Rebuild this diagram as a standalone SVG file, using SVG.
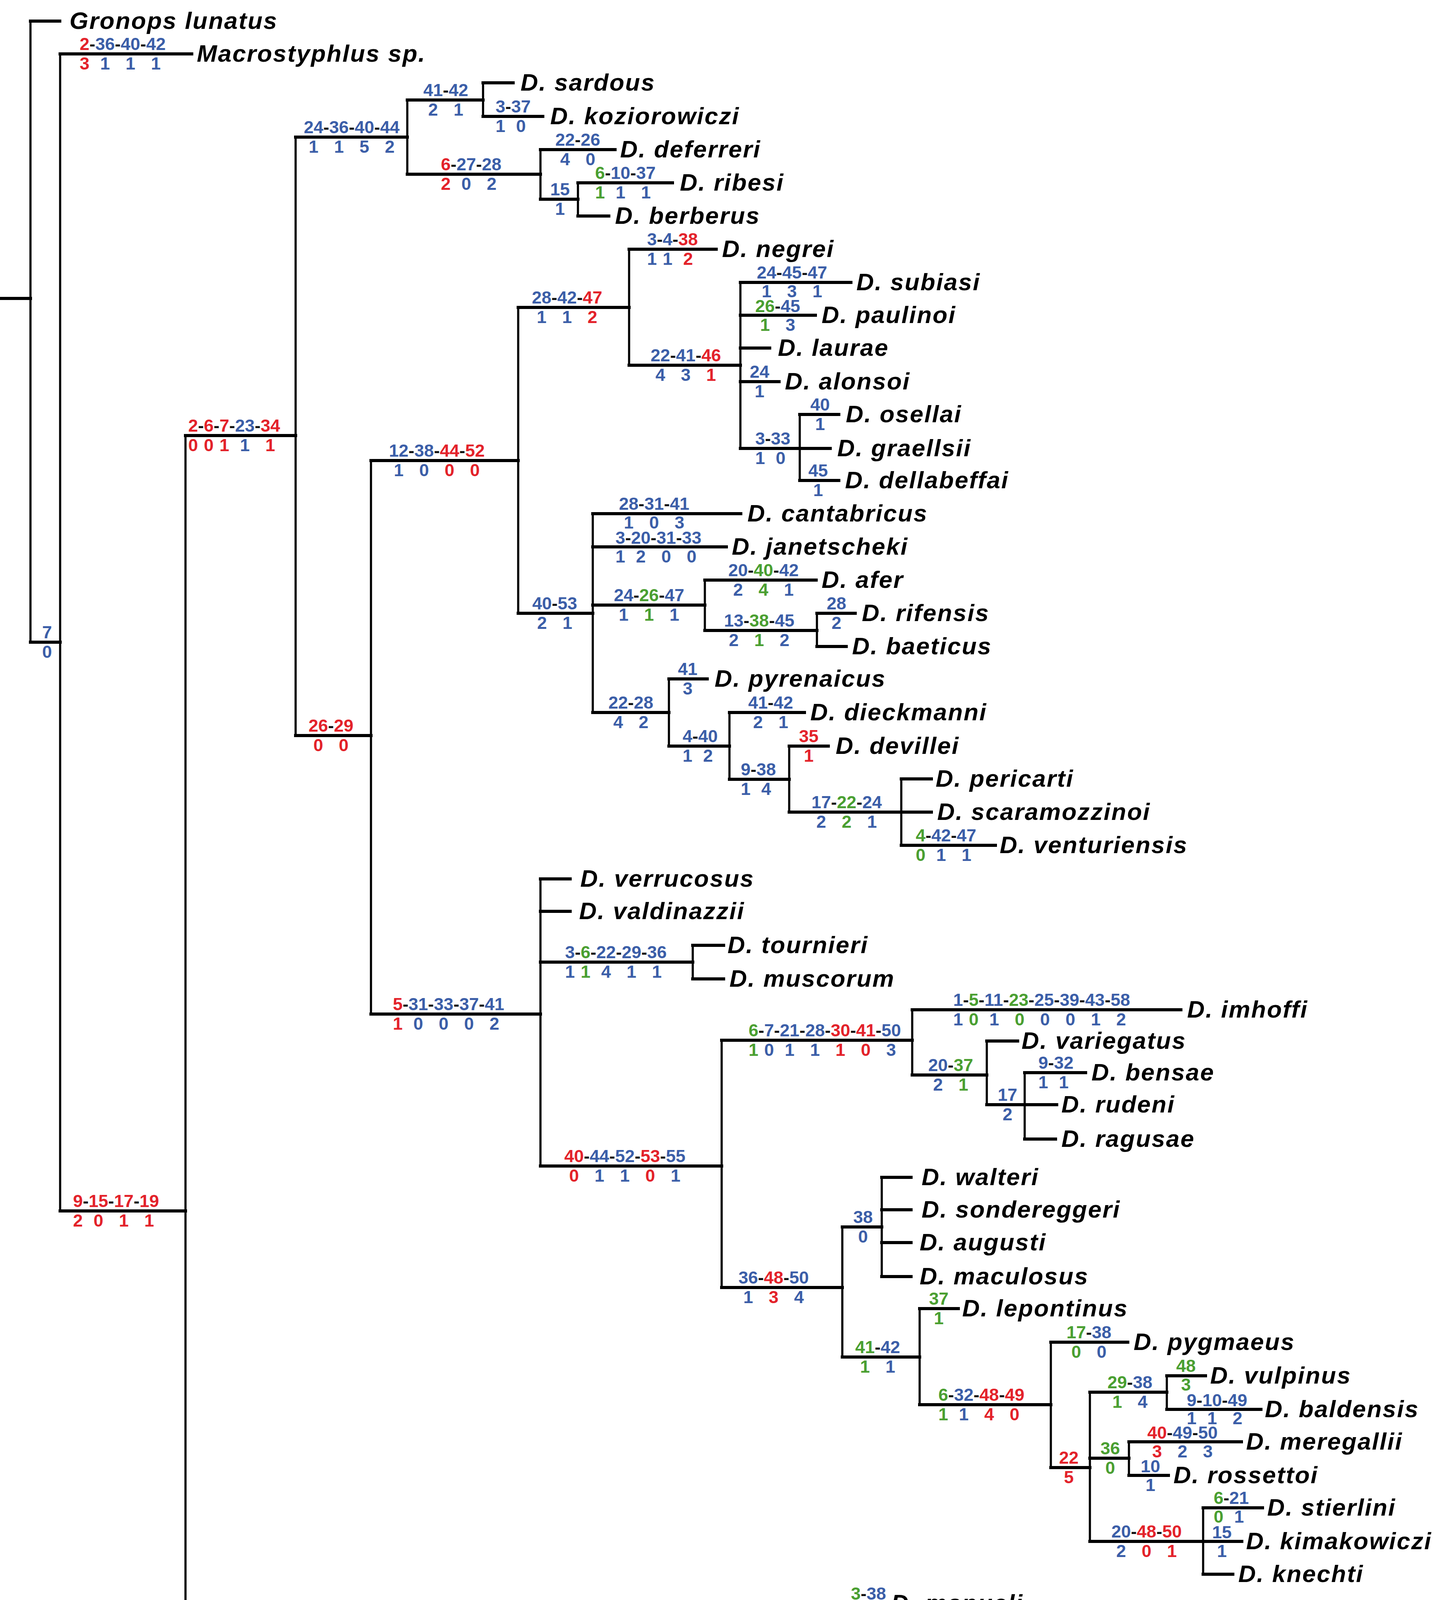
<svg xmlns="http://www.w3.org/2000/svg" width="3685" height="5252" viewBox="0 0 3685 5252">
<style>
.h{fill:none;stroke:#000;stroke-width:8;stroke-linecap:square}
.v{fill:none;stroke:#000;stroke-width:5.5;stroke-linecap:square}
.sp{font-family:"Liberation Sans",Arial,sans-serif;font-weight:bold;font-style:italic;font-size:62px;letter-spacing:2.5px;fill:#000}
.n{font-family:"Liberation Sans",Arial,sans-serif;font-weight:bold;font-size:45px;fill:#111}
.s{font-family:"Liberation Sans",Arial,sans-serif;font-weight:bold;font-size:45px;text-anchor:middle}
.b{fill:#3b5ea8}.r{fill:#e3222a}.g{fill:#4a9f31}
</style>
<rect width="3685" height="5252" fill="#fff"/>
<g id="connectors">
<path class="h" d="M0 764H78M78 54H153M78 1644H154M154 138H491M154 3100H475M475 1115H757M475 5008H836M757 351H1043M757 1883H950M1043 256H1237M1043 446H1384M1237 212H1314M1237 298H1390M1384 383H1575M1384 510H1480M1480 468H1722M1480 553H1559M950 1179H1327M950 2596H1384M1327 787H1611M1327 1570H1518M1611 638H1834M1611 935H1896M1896 723H2179M1896 807H2088M1896 891H1971M1896 977H1995M1896 1148H2126M2048 1061H2148M2048 1230H2148M1518 1315H1897M1518 1400H1860M1518 1549H1805M1518 1824H1713M1805 1485H2090M1805 1614H2092M2092 1570H2190M2092 1655H2167M1713 1738H1811M1713 1910H1868M1868 1824H2060M1868 1995H2021M2021 1910H2121M2021 2079H2385M2308 1994H2385M2308 2164H2549M1384 2250H1460M1384 2333H1460M1384 2463H1774M1384 2985H1848M1774 2420H1853M1774 2506H1853M1848 2663H2336M1848 3296H2157M2336 2585H3024M2336 2752H2527M2527 2665H2606M2527 2828H2706M2624 2746H2780M2624 2916H2703M2157 3141H2258M2157 3474H2355M2258 3014H2333M2258 3097H2333M2258 3181H2333M2258 3268H2333M2355 3350H2454M2355 3596H2691M2691 3436H2888M2691 3757H2791M2791 3564H2988M2791 3733H2891M2791 3946H3180M2988 3522H3087M2988 3608H3229M2891 3691H3179M2891 3777H2992M3081 3860H3233M3081 4030H3157M836 4805H1175M836 5191H934M1175 4470H1881M1175 5125H1255M1881 4190H2166M1881 4759H2166M2166 4105H2262M2166 4275H2358M2358 4190H2735M2358 4360H2735M2735 4275H3032M2735 4443H3005M2929 4358H3116M2929 4529H3025M2166 4657H2449M2166 4859H2540M2449 4614H2525M2449 4700H3301M2540 4783H2785M2540 4932H2828M2828 4869H2979M2828 4997H2927M2927 4953H3000M2927 5038H3075"/>
<path class="v" d="M78 54V1644M154 138V3100M475 1115V5008M757 351V1883M1043 256V446M1237 212V298M1384 383V510M1480 468V553M950 1179V2596M1327 787V1570M1611 638V935M1896 723V1148M2048 1061V1230M1518 1315V1824M1805 1485V1614M2092 1570V1655M1713 1738V1910M1868 1824V1995M2021 1910V2079M2308 1994V2164M1384 2250V2985M1774 2420V2506M1848 2663V3296M2336 2585V2752M2527 2665V2828M2624 2746V2916M2157 3141V3474M2258 3014V3268M2355 3350V3596M2691 3436V3757M2791 3564V3946M2988 3522V3608M2891 3691V3777M3081 3860V4030M836 4805V5191M1175 4470V5125M1881 4190V4759M2166 4105V4275M2358 4190V4360M2735 4275V4443M2929 4358V4529M2166 4657V4859M2449 4614V4700M2540 4783V4932M2828 4869V4997M2927 4953V5038"/>
</g>
<g id="taxa">
<g id="t-gronops"><text class="sp" x="178" y="74">Gronops lunatus</text></g>
<g id="t-macro"><text class="sp" x="504" y="158">Macrostyphlus sp.</text></g>
<g id="t-sardous"><text class="sp" x="1333" y="232">D. sardous</text></g>
<g id="t-kozio"><text class="sp" x="1409" y="318">D. koziorowiczi</text></g>
<g id="t-deferreri"><text class="sp" x="1588" y="403">D. deferreri</text></g>
<g id="t-ribesi"><text class="sp" x="1741" y="488">D. ribesi</text></g>
<g id="t-berberus"><text class="sp" x="1575" y="573">D. berberus</text></g>
<g id="t-negrei"><text class="sp" x="1849" y="658">D. negrei</text></g>
<g id="t-subiasi"><text class="sp" x="2193" y="743">D. subiasi</text></g>
<g id="t-paulinoi"><text class="sp" x="2104" y="827">D. paulinoi</text></g>
<g id="t-laurae"><text class="sp" x="1992" y="911">D. laurae</text></g>
<g id="t-alonsoi"><text class="sp" x="2010" y="997">D. alonsoi</text></g>
<g id="t-osellai"><text class="sp" x="2166" y="1081">D. osellai</text></g>
<g id="t-graellsii"><text class="sp" x="2144" y="1168">D. graellsii</text></g>
<g id="t-dellabeffai"><text class="sp" x="2164" y="1250">D. dellabeffai</text></g>
<g id="t-cantabricus"><text class="sp" x="1914" y="1335">D. cantabricus</text></g>
<g id="t-janetscheki"><text class="sp" x="1874" y="1420">D. janetscheki</text></g>
<g id="t-afer"><text class="sp" x="2104" y="1505">D. afer</text></g>
<g id="t-rifensis"><text class="sp" x="2207" y="1590">D. rifensis</text></g>
<g id="t-baeticus"><text class="sp" x="2182" y="1675">D. baeticus</text></g>
<g id="t-pyrenaicus"><text class="sp" x="1830" y="1758">D. pyrenaicus</text></g>
<g id="t-dieckmanni"><text class="sp" x="2075" y="1844">D. dieckmanni</text></g>
<g id="t-devillei"><text class="sp" x="2140" y="1930">D. devillei</text></g>
<g id="t-pericarti"><text class="sp" x="2396" y="2014">D. pericarti</text></g>
<g id="t-scaramozzinoi"><text class="sp" x="2400" y="2099">D. scaramozzinoi</text></g>
<g id="t-venturiensis"><text class="sp" x="2560" y="2184">D. venturiensis</text></g>
<g id="t-verrucosus"><text class="sp" x="1486" y="2270">D. verrucosus</text></g>
<g id="t-valdinazzii"><text class="sp" x="1483" y="2353">D. valdinazzii</text></g>
<g id="t-tournieri"><text class="sp" x="1863" y="2440">D. tournieri</text></g>
<g id="t-muscorum"><text class="sp" x="1868" y="2526">D. muscorum</text></g>
<g id="t-imhoffi"><text class="sp" x="3040" y="2605">D. imhoffi</text></g>
<g id="t-variegatus"><text class="sp" x="2616" y="2685">D. variegatus</text></g>
<g id="t-bensae"><text class="sp" x="2795" y="2766">D. bensae</text></g>
<g id="t-rudeni"><text class="sp" x="2718" y="2848">D. rudeni</text></g>
<g id="t-ragusae"><text class="sp" x="2718" y="2936">D. ragusae</text></g>
<g id="t-walteri"><text class="sp" x="2360" y="3034">D. walteri</text></g>
<g id="t-sondereggeri"><text class="sp" x="2360" y="3117">D. sondereggeri</text></g>
<g id="t-augusti"><text class="sp" x="2355" y="3201">D. augusti</text></g>
<g id="t-maculosus"><text class="sp" x="2355" y="3288">D. maculosus</text></g>
<g id="t-lepontinus"><text class="sp" x="2464" y="3370">D. lepontinus</text></g>
<g id="t-pygmaeus"><text class="sp" x="2903" y="3456">D. pygmaeus</text></g>
<g id="t-vulpinus"><text class="sp" x="3099" y="3542">D. vulpinus</text></g>
<g id="t-baldensis"><text class="sp" x="3239" y="3628">D. baldensis</text></g>
<g id="t-meregallii"><text class="sp" x="3191" y="3711">D. meregallii</text></g>
<g id="t-rossettoi"><text class="sp" x="3005" y="3797">D. rossettoi</text></g>
<g id="t-stierlini"><text class="sp" x="3245" y="3880">D. stierlini</text></g>
<g id="t-kimakowiczi"><text class="sp" x="3191" y="3966">D. kimakowiczi</text></g>
<g id="t-knechti"><text class="sp" x="3171" y="4050">D. knechti</text></g>
<g id="t-manueli"><text class="sp" x="2282" y="4125">D. manueli</text></g>
<g id="t-pesarinii"><text class="sp" x="2752" y="4210">D. pesarinii</text></g>
<g id="t-linderi"><text class="sp" x="3050" y="4295">D. linderi</text></g>
<g id="t-sulcipennis"><text class="sp" x="3136" y="4378">D. sulcipennis</text></g>
<g id="t-margaritae"><text class="sp" x="3030" y="4463">D. margaritae</text></g>
<g id="t-doderoi"><text class="sp" x="3045" y="4549">D. doderoi</text></g>
<g id="t-bischoffi"><text class="sp" x="2545" y="4634">D. bischoffi</text></g>
<g id="t-baudii"><text class="sp" x="3318" y="4720">D. baudii</text></g>
<g id="t-grignensis"><text class="sp" x="2799" y="4803">D. grignensis</text></g>
<g id="t-luzei"><text class="sp" x="2995" y="4889">D. luzei</text></g>
<g id="t-kahleni"><text class="sp" x="3015" y="4973">D. kahleni</text></g>
<g id="t-philippi"><text class="sp" x="3091" y="5058">D. philippi</text></g>
<g id="t-occidentalis"><text class="sp" x="1278" y="5145">D. occidentalis</text></g>
<g id="t-espanoli"><text class="sp" x="945" y="5211">D. espanoli</text></g>
</g>
<g id="characters">
<g id="c-macro"><text class="n" x="204" y="128"><tspan class="r">2</tspan>-<tspan class="b">36</tspan>-<tspan class="b">40</tspan>-<tspan class="b">42</tspan></text><text class="s" y="178"><tspan x="216.5" class="r">3</tspan><tspan x="269" class="b">1</tspan><tspan x="334" class="b">1</tspan><tspan x="399" class="b">1</tspan></text></g>
<g id="c-7"><text class="n" x="108" y="1634"><tspan class="b">7</tspan></text><text class="s" y="1684"><tspan x="120.5" class="b">0</tspan></text></g>
<g id="c-9-15"><text class="n" x="187" y="3090"><tspan class="r">9</tspan>-<tspan class="r">15</tspan>-<tspan class="r">17</tspan>-<tspan class="r">19</tspan></text><text class="s" y="3140"><tspan x="199.5" class="r">2</tspan><tspan x="252" class="r">0</tspan><tspan x="317" class="r">1</tspan><tspan x="382" class="r">1</tspan></text></g>
<g id="c-2-6-7"><text class="n" x="482" y="1105"><tspan class="r">2</tspan>-<tspan class="r">6</tspan>-<tspan class="r">7</tspan>-<tspan class="b">23</tspan>-<tspan class="r">34</tspan></text><text class="s" y="1155"><tspan x="494.5" class="r">0</tspan><tspan x="534.5" class="r">0</tspan><tspan x="574.5" class="r">1</tspan><tspan x="627" class="b">1</tspan><tspan x="692" class="r">1</tspan></text></g>
<g id="c-24-36"><text class="n" x="778" y="341"><tspan class="b">24</tspan>-<tspan class="b">36</tspan>-<tspan class="b">40</tspan>-<tspan class="b">44</tspan></text><text class="s" y="391"><tspan x="803" class="b">1</tspan><tspan x="868" class="b">1</tspan><tspan x="933" class="b">5</tspan><tspan x="998" class="b">2</tspan></text></g>
<g id="c-41-42a"><text class="n" x="1084" y="246"><tspan class="b">41</tspan>-<tspan class="b">42</tspan></text><text class="s" y="296"><tspan x="1109" class="b">2</tspan><tspan x="1174" class="b">1</tspan></text></g>
<g id="c-kozio"><text class="n" x="1269" y="288"><tspan class="b">3</tspan>-<tspan class="b">37</tspan></text><text class="s" y="338"><tspan x="1281.5" class="b">1</tspan><tspan x="1334" class="b">0</tspan></text></g>
<g id="c-6-27"><text class="n" x="1129" y="436"><tspan class="r">6</tspan>-<tspan class="b">27</tspan>-<tspan class="b">28</tspan></text><text class="s" y="486"><tspan x="1141.5" class="r">2</tspan><tspan x="1194" class="b">0</tspan><tspan x="1259" class="b">2</tspan></text></g>
<g id="c-deferreri"><text class="n" x="1422" y="373"><tspan class="b">22</tspan>-<tspan class="b">26</tspan></text><text class="s" y="423"><tspan x="1447" class="b">4</tspan><tspan x="1512" class="b">0</tspan></text></g>
<g id="c-15a"><text class="n" x="1409" y="500"><tspan class="b">15</tspan></text><text class="s" y="550"><tspan x="1434" class="b">1</tspan></text></g>
<g id="c-ribesi"><text class="n" x="1524" y="458"><tspan class="g">6</tspan>-<tspan class="b">10</tspan>-<tspan class="b">37</tspan></text><text class="s" y="508"><tspan x="1536.5" class="g">1</tspan><tspan x="1589" class="b">1</tspan><tspan x="1654" class="b">1</tspan></text></g>
<g id="c-26-29"><text class="n" x="790" y="1873"><tspan class="r">26</tspan>-<tspan class="r">29</tspan></text><text class="s" y="1923"><tspan x="815" class="r">0</tspan><tspan x="880" class="r">0</tspan></text></g>
<g id="c-12-38"><text class="n" x="996" y="1169"><tspan class="b">12</tspan>-<tspan class="b">38</tspan>-<tspan class="r">44</tspan>-<tspan class="r">52</tspan></text><text class="s" y="1219"><tspan x="1021" class="b">1</tspan><tspan x="1086" class="b">0</tspan><tspan x="1151" class="r">0</tspan><tspan x="1216" class="r">0</tspan></text></g>
<g id="c-28-42"><text class="n" x="1362" y="777"><tspan class="b">28</tspan>-<tspan class="b">42</tspan>-<tspan class="r">47</tspan></text><text class="s" y="827"><tspan x="1387" class="b">1</tspan><tspan x="1452" class="b">1</tspan><tspan x="1517" class="r">2</tspan></text></g>
<g id="c-negrei"><text class="n" x="1657" y="628"><tspan class="b">3</tspan>-<tspan class="b">4</tspan>-<tspan class="r">38</tspan></text><text class="s" y="678"><tspan x="1669.5" class="b">1</tspan><tspan x="1709.5" class="b">1</tspan><tspan x="1762" class="r">2</tspan></text></g>
<g id="c-22-41"><text class="n" x="1666" y="925"><tspan class="b">22</tspan>-<tspan class="b">41</tspan>-<tspan class="r">46</tspan></text><text class="s" y="975"><tspan x="1691" class="b">4</tspan><tspan x="1756" class="b">3</tspan><tspan x="1821" class="r">1</tspan></text></g>
<g id="c-subiasi"><text class="n" x="1938" y="713"><tspan class="b">24</tspan>-<tspan class="b">45</tspan>-<tspan class="b">47</tspan></text><text class="s" y="761"><tspan x="1963" class="b">1</tspan><tspan x="2028" class="b">3</tspan><tspan x="2093" class="b">1</tspan></text></g>
<g id="c-paulinoi"><text class="n" x="1934" y="799"><tspan class="g">26</tspan>-<tspan class="b">45</tspan></text><text class="s" y="847"><tspan x="1959" class="g">1</tspan><tspan x="2024" class="b">3</tspan></text></g>
<g id="c-alonsoi"><text class="n" x="1920" y="967"><tspan class="b">24</tspan></text><text class="s" y="1017"><tspan x="1945" class="b">1</tspan></text></g>
<g id="c-3-33a"><text class="n" x="1934" y="1138"><tspan class="b">3</tspan>-<tspan class="b">33</tspan></text><text class="s" y="1188"><tspan x="1946.5" class="b">1</tspan><tspan x="1999" class="b">0</tspan></text></g>
<g id="c-osellai"><text class="n" x="2075" y="1051"><tspan class="b">40</tspan></text><text class="s" y="1101"><tspan x="2100" class="b">1</tspan></text></g>
<g id="c-dellabeffai"><text class="n" x="2070" y="1220"><tspan class="b">45</tspan></text><text class="s" y="1270"><tspan x="2095" class="b">1</tspan></text></g>
<g id="c-40-53"><text class="n" x="1363" y="1560"><tspan class="b">40</tspan>-<tspan class="b">53</tspan></text><text class="s" y="1610"><tspan x="1388" class="b">2</tspan><tspan x="1453" class="b">1</tspan></text></g>
<g id="c-cantabricus"><text class="n" x="1585" y="1305"><tspan class="b">28</tspan>-<tspan class="b">31</tspan>-<tspan class="b">41</tspan></text><text class="s" y="1353"><tspan x="1610" class="b">1</tspan><tspan x="1675" class="b">0</tspan><tspan x="1740" class="b">3</tspan></text></g>
<g id="c-janetscheki"><text class="n" x="1576" y="1392"><tspan class="b">3</tspan>-<tspan class="b">20</tspan>-<tspan class="b">31</tspan>-<tspan class="b">33</tspan></text><text class="s" y="1440"><tspan x="1588.5" class="b">1</tspan><tspan x="1641" class="b">2</tspan><tspan x="1706" class="b">0</tspan><tspan x="1771" class="b">0</tspan></text></g>
<g id="c-24-26"><text class="n" x="1572" y="1539"><tspan class="b">24</tspan>-<tspan class="g">26</tspan>-<tspan class="b">47</tspan></text><text class="s" y="1589"><tspan x="1597" class="b">1</tspan><tspan x="1662" class="g">1</tspan><tspan x="1727" class="b">1</tspan></text></g>
<g id="c-afer"><text class="n" x="1865" y="1475"><tspan class="b">20</tspan>-<tspan class="g">40</tspan>-<tspan class="b">42</tspan></text><text class="s" y="1525"><tspan x="1890" class="b">2</tspan><tspan x="1955" class="g">4</tspan><tspan x="2020" class="b">1</tspan></text></g>
<g id="c-13-38"><text class="n" x="1854" y="1604"><tspan class="b">13</tspan>-<tspan class="g">38</tspan>-<tspan class="b">45</tspan></text><text class="s" y="1654"><tspan x="1879" class="b">2</tspan><tspan x="1944" class="g">1</tspan><tspan x="2009" class="b">2</tspan></text></g>
<g id="c-rifensis"><text class="n" x="2117" y="1560"><tspan class="b">28</tspan></text><text class="s" y="1610"><tspan x="2142" class="b">2</tspan></text></g>
<g id="c-22-28"><text class="n" x="1558" y="1814"><tspan class="b">22</tspan>-<tspan class="b">28</tspan></text><text class="s" y="1864"><tspan x="1583" class="b">4</tspan><tspan x="1648" class="b">2</tspan></text></g>
<g id="c-pyrenaicus"><text class="n" x="1736" y="1728"><tspan class="b">41</tspan></text><text class="s" y="1778"><tspan x="1761" class="b">3</tspan></text></g>
<g id="c-4-40"><text class="n" x="1748" y="1900"><tspan class="b">4</tspan>-<tspan class="b">40</tspan></text><text class="s" y="1950"><tspan x="1760.5" class="b">1</tspan><tspan x="1813" class="b">2</tspan></text></g>
<g id="c-dieckmanni"><text class="n" x="1916" y="1814"><tspan class="b">41</tspan>-<tspan class="b">42</tspan></text><text class="s" y="1864"><tspan x="1941" class="b">2</tspan><tspan x="2006" class="b">1</tspan></text></g>
<g id="c-9-38"><text class="n" x="1897" y="1985"><tspan class="b">9</tspan>-<tspan class="b">38</tspan></text><text class="s" y="2035"><tspan x="1909.5" class="b">1</tspan><tspan x="1962" class="b">4</tspan></text></g>
<g id="c-devillei"><text class="n" x="2046" y="1900"><tspan class="r">35</tspan></text><text class="s" y="1950"><tspan x="2071" class="r">1</tspan></text></g>
<g id="c-17-22"><text class="n" x="2078" y="2069"><tspan class="b">17</tspan>-<tspan class="g">22</tspan>-<tspan class="b">24</tspan></text><text class="s" y="2119"><tspan x="2103" class="b">2</tspan><tspan x="2168" class="g">2</tspan><tspan x="2233" class="b">1</tspan></text></g>
<g id="c-venturiensis"><text class="n" x="2345" y="2154"><tspan class="g">4</tspan>-<tspan class="b">42</tspan>-<tspan class="b">47</tspan></text><text class="s" y="2204"><tspan x="2357.5" class="g">0</tspan><tspan x="2410" class="b">1</tspan><tspan x="2475" class="b">1</tspan></text></g>
<g id="c-5-31"><text class="n" x="1006" y="2586"><tspan class="r">5</tspan>-<tspan class="b">31</tspan>-<tspan class="b">33</tspan>-<tspan class="b">37</tspan>-<tspan class="b">41</tspan></text><text class="s" y="2636"><tspan x="1018.5" class="r">1</tspan><tspan x="1071" class="b">0</tspan><tspan x="1136" class="b">0</tspan><tspan x="1201" class="b">0</tspan><tspan x="1266" class="b">2</tspan></text></g>
<g id="c-3-6-22"><text class="n" x="1447" y="2453"><tspan class="b">3</tspan>-<tspan class="g">6</tspan>-<tspan class="b">22</tspan>-<tspan class="b">29</tspan>-<tspan class="b">36</tspan></text><text class="s" y="2503"><tspan x="1459.5" class="b">1</tspan><tspan x="1499.5" class="g">1</tspan><tspan x="1552" class="b">4</tspan><tspan x="1617" class="b">1</tspan><tspan x="1682" class="b">1</tspan></text></g>
<g id="c-40-44"><text class="n" x="1445" y="2975"><tspan class="r">40</tspan>-<tspan class="b">44</tspan>-<tspan class="b">52</tspan>-<tspan class="r">53</tspan>-<tspan class="b">55</tspan></text><text class="s" y="3025"><tspan x="1470" class="r">0</tspan><tspan x="1535" class="b">1</tspan><tspan x="1600" class="b">1</tspan><tspan x="1665" class="r">0</tspan><tspan x="1730" class="b">1</tspan></text></g>
<g id="c-6-7-21"><text class="n" x="1917" y="2653"><tspan class="g">6</tspan>-<tspan class="b">7</tspan>-<tspan class="b">21</tspan>-<tspan class="b">28</tspan>-<tspan class="r">30</tspan>-<tspan class="r">41</tspan>-<tspan class="b">50</tspan></text><text class="s" y="2703"><tspan x="1929.5" class="g">1</tspan><tspan x="1969.5" class="b">0</tspan><tspan x="2022" class="b">1</tspan><tspan x="2087" class="b">1</tspan><tspan x="2152" class="r">1</tspan><tspan x="2217" class="r">0</tspan><tspan x="2282" class="b">3</tspan></text></g>
<g id="c-imhoffi"><text class="n" x="2441" y="2575"><tspan class="b">1</tspan>-<tspan class="g">5</tspan>-<tspan class="b">11</tspan>-<tspan class="g">23</tspan>-<tspan class="b">25</tspan>-<tspan class="b">39</tspan>-<tspan class="b">43</tspan>-<tspan class="b">58</tspan></text><text class="s" y="2625"><tspan x="2453.5" class="b">1</tspan><tspan x="2493.5" class="g">0</tspan><tspan x="2546" class="b">1</tspan><tspan x="2611" class="g">0</tspan><tspan x="2676" class="b">0</tspan><tspan x="2741" class="b">0</tspan><tspan x="2806" class="b">1</tspan><tspan x="2871" class="b">2</tspan></text></g>
<g id="c-20-37"><text class="n" x="2377" y="2742"><tspan class="b">20</tspan>-<tspan class="g">37</tspan></text><text class="s" y="2792"><tspan x="2402" class="b">2</tspan><tspan x="2467" class="g">1</tspan></text></g>
<g id="c-17b"><text class="n" x="2555" y="2818"><tspan class="b">17</tspan></text><text class="s" y="2868"><tspan x="2580" class="b">2</tspan></text></g>
<g id="c-bensae"><text class="n" x="2659" y="2736"><tspan class="b">9</tspan>-<tspan class="b">32</tspan></text><text class="s" y="2786"><tspan x="2671.5" class="b">1</tspan><tspan x="2724" class="b">1</tspan></text></g>
<g id="c-36-48"><text class="n" x="1891" y="3286"><tspan class="b">36</tspan>-<tspan class="r">48</tspan>-<tspan class="b">50</tspan></text><text class="s" y="3336"><tspan x="1916" class="b">1</tspan><tspan x="1981" class="r">3</tspan><tspan x="2046" class="b">4</tspan></text></g>
<g id="c-38"><text class="n" x="2185" y="3131"><tspan class="b">38</tspan></text><text class="s" y="3181"><tspan x="2210" class="b">0</tspan></text></g>
<g id="c-41-42b"><text class="n" x="2190" y="3464"><tspan class="g">41</tspan>-<tspan class="b">42</tspan></text><text class="s" y="3514"><tspan x="2215" class="g">1</tspan><tspan x="2280" class="b">1</tspan></text></g>
<g id="c-lepontinus"><text class="n" x="2379" y="3340"><tspan class="g">37</tspan></text><text class="s" y="3390"><tspan x="2404" class="g">1</tspan></text></g>
<g id="c-6-32"><text class="n" x="2403" y="3586"><tspan class="g">6</tspan>-<tspan class="b">32</tspan>-<tspan class="r">48</tspan>-<tspan class="r">49</tspan></text><text class="s" y="3636"><tspan x="2415.5" class="g">1</tspan><tspan x="2468" class="b">1</tspan><tspan x="2533" class="r">4</tspan><tspan x="2598" class="r">0</tspan></text></g>
<g id="c-pygmaeus"><text class="n" x="2731" y="3426"><tspan class="g">17</tspan>-<tspan class="b">38</tspan></text><text class="s" y="3476"><tspan x="2756" class="g">0</tspan><tspan x="2821" class="b">0</tspan></text></g>
<g id="c-22c"><text class="n" x="2712" y="3747"><tspan class="r">22</tspan></text><text class="s" y="3797"><tspan x="2737" class="r">5</tspan></text></g>
<g id="c-29-38"><text class="n" x="2836" y="3554"><tspan class="g">29</tspan>-<tspan class="b">38</tspan></text><text class="s" y="3604"><tspan x="2861" class="g">1</tspan><tspan x="2926" class="b">4</tspan></text></g>
<g id="c-vulpinus"><text class="n" x="3012" y="3512"><tspan class="g">48</tspan></text><text class="s" y="3560"><tspan x="3037" class="g">3</tspan></text></g>
<g id="c-baldensis"><text class="n" x="3039" y="3600"><tspan class="b">9</tspan>-<tspan class="b">10</tspan>-<tspan class="b">49</tspan></text><text class="s" y="3646"><tspan x="3051.5" class="b">1</tspan><tspan x="3104" class="b">1</tspan><tspan x="3169" class="b">2</tspan></text></g>
<g id="c-36b"><text class="n" x="2818" y="3723"><tspan class="g">36</tspan></text><text class="s" y="3773"><tspan x="2843" class="g">0</tspan></text></g>
<g id="c-meregallii"><text class="n" x="2938" y="3683"><tspan class="r">40</tspan>-<tspan class="b">49</tspan>-<tspan class="b">50</tspan></text><text class="s" y="3731"><tspan x="2963" class="r">3</tspan><tspan x="3028" class="b">2</tspan><tspan x="3093" class="b">3</tspan></text></g>
<g id="c-rossettoi"><text class="n" x="2921" y="3769"><tspan class="b">10</tspan></text><text class="s" y="3817"><tspan x="2946" class="b">1</tspan></text></g>
<g id="c-20-48"><text class="n" x="2846" y="3936"><tspan class="b">20</tspan>-<tspan class="r">48</tspan>-<tspan class="r">50</tspan></text><text class="s" y="3986"><tspan x="2871" class="b">2</tspan><tspan x="2936" class="r">0</tspan><tspan x="3001" class="r">1</tspan></text></g>
<g id="c-stierlini"><text class="n" x="3108" y="3850"><tspan class="g">6</tspan>-<tspan class="b">21</tspan></text><text class="s" y="3898"><tspan x="3120.5" class="g">0</tspan><tspan x="3173" class="b">1</tspan></text></g>
<g id="c-kimakowiczi"><text class="n" x="3104" y="3938"><tspan class="b">15</tspan></text><text class="s" y="3986"><tspan x="3129" class="b">1</tspan></text></g>
<g id="c-2-3-28"><text class="n" x="480" y="4998"><tspan class="g">2</tspan>-<tspan class="b">3</tspan>-<tspan class="b">28</tspan>-<tspan class="g">36</tspan>-<tspan class="b">40</tspan>-<tspan class="g">42</tspan></text><text class="s" y="5048"><tspan x="492.5" class="g">2</tspan><tspan x="532.5" class="b">1</tspan><tspan x="585" class="b">1</tspan><tspan x="650" class="g">0</tspan><tspan x="715" class="b">1</tspan><tspan x="780" class="g">0</tspan></text></g>
<g id="c-1-11"><text class="n" x="840" y="4795"><tspan class="b">1</tspan>-<tspan class="b">11</tspan>-<tspan class="b">21</tspan>-<tspan class="r">26</tspan>-<tspan class="b">39</tspan></text><text class="s" y="4845"><tspan x="852.5" class="b">1</tspan><tspan x="905" class="b">1</tspan><tspan x="970" class="b">1</tspan><tspan x="1035" class="r">2</tspan><tspan x="1100" class="b">0</tspan></text></g>
<g id="c-espanoli"><text class="n" x="871" y="5181"><tspan class="r">44</tspan></text><text class="s" y="5231"><tspan x="896" class="r">5</tspan></text></g>
<g id="c-9-13"><text class="n" x="1301" y="4460"><tspan class="b">9</tspan>-<tspan class="r">13</tspan>-<tspan class="r">19</tspan>-<tspan class="r">20</tspan>-<tspan class="r">44</tspan>-<tspan class="r">52</tspan>-<tspan class="b">53</tspan>-<tspan class="r">58</tspan>-<tspan class="r">59</tspan></text><text class="s" y="4510"><tspan x="1313.5" class="b">1</tspan><tspan x="1366" class="r">0</tspan><tspan x="1431" class="r">0</tspan><tspan x="1496" class="r">0</tspan><tspan x="1561" class="r">3</tspan><tspan x="1626" class="r">2</tspan><tspan x="1691" class="b">1</tspan><tspan x="1756" class="r">0</tspan><tspan x="1821" class="r">1</tspan></text></g>
<g id="c-16-22"><text class="n" x="1927" y="4180"><tspan class="r">16</tspan>-<tspan class="g">22</tspan>-<tspan class="r">51</tspan></text><text class="s" y="4230"><tspan x="1952" class="r">0</tspan><tspan x="2017" class="g">0</tspan><tspan x="2082" class="r">2</tspan></text></g>
<g id="c-manueli"><text class="n" x="2179" y="4095"><tspan class="g">3</tspan>-<tspan class="b">38</tspan></text><text class="s" y="4145"><tspan x="2191.5" class="g">0</tspan><tspan x="2244" class="b">0</tspan></text></g>
<g id="c-44-52"><text class="n" x="2206" y="4265"><tspan class="r">44</tspan>-<tspan class="r">52</tspan></text><text class="s" y="4315"><tspan x="2231" class="r">4</tspan><tspan x="2296" class="r">4</tspan></text></g>
<g id="c-pesarinii"><text class="n" x="2375" y="4180"><tspan class="g">3</tspan>-<tspan class="b">13</tspan>-<tspan class="b">22</tspan>-<tspan class="b">33</tspan>-<tspan class="b">36</tspan></text><text class="s" y="4230"><tspan x="2387.5" class="g">0</tspan><tspan x="2440" class="b">2</tspan><tspan x="2505" class="b">4</tspan><tspan x="2570" class="b">0</tspan><tspan x="2635" class="b">1</tspan></text></g>
<g id="c-12-38-43"><text class="n" x="2421" y="4350"><tspan class="b">12</tspan>-<tspan class="b">38</tspan>-<tspan class="r">43</tspan>-<tspan class="r">54</tspan></text><text class="s" y="4400"><tspan x="2446" class="b">2</tspan><tspan x="2511" class="b">3</tspan><tspan x="2576" class="r">2</tspan><tspan x="2641" class="r">1</tspan></text></g>
<g id="c-linderi"><text class="n" x="2775" y="4265"><tspan class="g">2</tspan>-<tspan class="r">9</tspan>-<tspan class="r">14</tspan>-<tspan class="g">28</tspan></text><text class="s" y="4315"><tspan x="2787.5" class="g">2</tspan><tspan x="2827.5" class="r">3</tspan><tspan x="2880" class="r">1</tspan><tspan x="2945" class="g">0</tspan></text></g>
<g id="c-17-18"><text class="n" x="2779" y="4433"><tspan class="b">17</tspan>-<tspan class="r">18</tspan></text><text class="s" y="4483"><tspan x="2804" class="b">0</tspan><tspan x="2869" class="r">1</tspan></text></g>
<g id="c-sulcipennis"><text class="n" x="2992" y="4348"><tspan class="r">22</tspan></text><text class="s" y="4398"><tspan x="3017" class="r">1</tspan></text></g>
<g id="c-doderoi"><text class="n" x="2957" y="4519"><tspan class="b">33</tspan></text><text class="s" y="4569"><tspan x="2982" class="b">0</tspan></text></g>
<g id="c-12-55"><text class="n" x="1927" y="4749"><tspan class="b">12</tspan>-<tspan class="b">55</tspan>-<tspan class="r">56</tspan></text><text class="s" y="4799"><tspan x="1952" class="b">2</tspan><tspan x="2017" class="b">1</tspan><tspan x="2082" class="r">1</tspan></text></g>
<g id="c-25-38"><text class="n" x="2229" y="4647"><tspan class="g">25</tspan>-<tspan class="b">38</tspan>-<tspan class="r">57</tspan></text><text class="s" y="4697"><tspan x="2254" class="g">1</tspan><tspan x="2319" class="b">3</tspan><tspan x="2384" class="r">1</tspan></text></g>
<g id="c-baudii"><text class="n" x="2540" y="4690"><tspan class="r">8</tspan>-<tspan class="r">9</tspan>-<tspan class="r">10</tspan>-<tspan class="b">12</tspan>-<tspan class="r">14</tspan>-<tspan class="r">19</tspan>-<tspan class="b">21</tspan>-<tspan class="b">23</tspan>-<tspan class="g">26</tspan>-<tspan class="g">28</tspan></text><text class="s" y="4740"><tspan x="2552.5" class="r">1</tspan><tspan x="2592.5" class="r">0</tspan><tspan x="2645" class="r">2</tspan><tspan x="2710" class="b">1</tspan><tspan x="2775" class="r">2</tspan><tspan x="2840" class="r">2</tspan><tspan x="2905" class="b">3</tspan><tspan x="2970" class="b">1</tspan><tspan x="3035" class="g">1</tspan><tspan x="3100" class="g">1</tspan></text></g>
<g id="c-13-20"><text class="n" x="2231" y="4849"><tspan class="b">13</tspan>-<tspan class="b">20</tspan>-<tspan class="b">52</tspan>-<tspan class="b">58</tspan></text><text class="s" y="4899"><tspan x="2256" class="b">2</tspan><tspan x="2321" class="b">2</tspan><tspan x="2386" class="b">2</tspan><tspan x="2451" class="b">2</tspan></text></g>
<g id="c-grignensis"><text class="n" x="2583" y="4775"><tspan class="g">3</tspan>-<tspan class="b">33</tspan>-<tspan class="b">38</tspan></text><text class="s" y="4823"><tspan x="2595.5" class="g">0</tspan><tspan x="2648" class="b">0</tspan><tspan x="2713" class="b">0</tspan></text></g>
<g id="c-22-44"><text class="n" x="2590" y="4922"><tspan class="r">22</tspan>-<tspan class="b">44</tspan>-<tspan class="b">50</tspan></text><text class="s" y="4972"><tspan x="2615" class="r">3</tspan><tspan x="2680" class="b">1</tspan><tspan x="2745" class="b">4</tspan></text></g>
<g id="c-luzei"><text class="n" x="2858" y="4859"><tspan class="g">9</tspan>-<tspan class="b">12</tspan></text><text class="s" y="4909"><tspan x="2870.5" class="g">2</tspan><tspan x="2923" class="b">1</tspan></text></g>
<g id="c-48b"><text class="n" x="2850" y="4987"><tspan class="r">48</tspan></text><text class="s" y="5037"><tspan x="2875" class="r">2</tspan></text></g>
<g id="c-philippi"><text class="n" x="2957" y="5028"><tspan class="b">2</tspan>-<tspan class="b">38</tspan></text><text class="s" y="5078"><tspan x="2969.5" class="b">0</tspan><tspan x="3022" class="b">0</tspan></text></g>
</g>
</svg>
